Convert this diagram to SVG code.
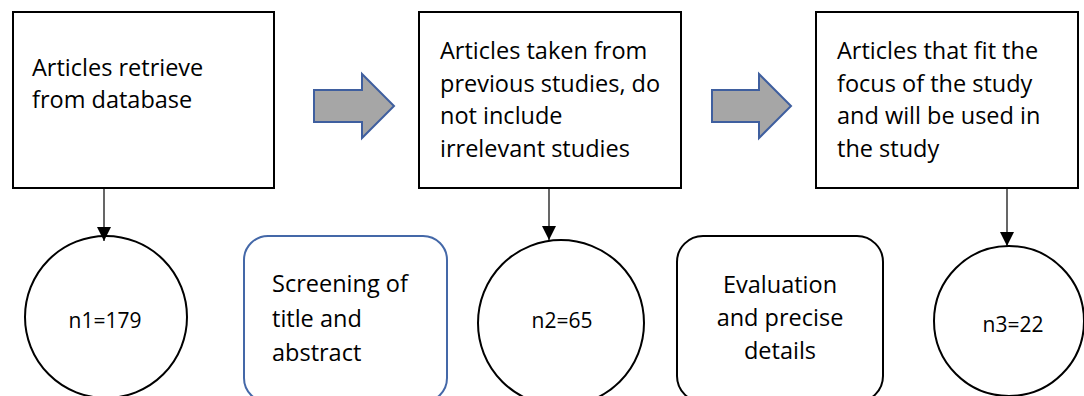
<svg xmlns="http://www.w3.org/2000/svg" width="1084" height="396" viewBox="0 0 1084 396">
  <style>
    .box { fill: #ffffff; stroke: #000000; stroke-width: 2; }
    .blk { fill: #A6A6A6; stroke: #3F5F9F; stroke-width: 2; stroke-linejoin: miter; }
    .rbox { fill: #ffffff; stroke: #000000; stroke-width: 2; }
    .rbox-blue { fill: #ffffff; stroke: #4468A8; stroke-width: 2; }
    .circ { fill: #ffffff; stroke: #000000; stroke-width: 2; }
    .t { font-family: "Open Sans", "Liberation Sans", sans-serif; font-size: 23.5px; fill: #000000; }
    .n { font-family: "Open Sans", "Liberation Sans", sans-serif; font-size: 21px; fill: #000000; text-anchor: middle; }
    .mid { text-anchor: middle; }
    .conn { stroke: #000000; stroke-width: 1.2; fill: none; }
  </style>
  <defs>
    <marker id="ah" markerUnits="userSpaceOnUse" markerWidth="14" markerHeight="14" viewBox="0 0 14 14" refX="14" refY="7" orient="auto">
      <path d="M0,0 L14,7 L0,14 Z" fill="#000000"/>
    </marker>
  </defs>

  <g id="box1">
    <rect class="box" x="13" y="12" width="261" height="176"/>
    <text class="t" x="32" y="76">Articles retrieve</text>
    <text class="t" x="32" y="108">from database</text>
  </g>

  <g id="arrow1">
    <polygon class="blk" points="314,90 362,90 362,74 394,106 362,138 362,122 314,122"/>
  </g>

  <g id="box2">
    <rect class="box" x="419" y="12" width="262" height="176"/>
    <text class="t" x="440" y="59">Articles taken from</text>
    <text class="t" x="440" y="92">previous studies, do</text>
    <text class="t" x="440" y="124">not include</text>
    <text class="t" x="440" y="157">irrelevant studies</text>
  </g>

  <g id="arrow2">
    <polygon class="blk" points="712,90 759,90 759,74 791,106 759,138 759,122 712,122"/>
  </g>

  <g id="box3">
    <rect class="box" x="816" y="12" width="262" height="176"/>
    <text class="t" x="837" y="59">Articles that fit the</text>
    <text class="t" x="837" y="92">focus of the study</text>
    <text class="t" x="837" y="124">and will be used in</text>
    <text class="t" x="837" y="157">the study</text>
  </g>

  <g id="n1">
    <circle class="circ" cx="106" cy="317" r="81"/>
    <text class="n" x="105" y="328">n1=179</text>
  </g>

  <g id="screening">
    <rect class="rbox-blue" x="244" y="236" width="203" height="166" rx="24" ry="24"/>
    <text class="t" x="272" y="292">Screening of</text>
    <text class="t" x="272" y="327">title and</text>
    <text class="t" x="272" y="361">abstract</text>
  </g>

  <g id="n2">
    <circle class="circ" cx="561" cy="323" r="83"/>
    <text class="n" x="562" y="328">n2=65</text>
  </g>

  <g id="evaluation">
    <rect class="rbox" x="677" y="236" width="206" height="166" rx="26" ry="26"/>
    <text class="t mid" x="780" y="293">Evaluation</text>
    <text class="t mid" x="780" y="326">and precise</text>
    <text class="t mid" x="780" y="359">details</text>
  </g>

  <g id="n3">
    <circle class="circ" cx="1009" cy="321" r="75"/>
    <text class="n" x="1013" y="332">n3=22</text>
  </g>

  <g id="connectors">
    <line class="conn" x1="104" y1="189" x2="104" y2="241" marker-end="url(#ah)"/>
    <line class="conn" x1="549" y1="189" x2="549" y2="240" marker-end="url(#ah)"/>
    <line class="conn" x1="1007" y1="189" x2="1007" y2="246" marker-end="url(#ah)"/>
  </g>
</svg>
